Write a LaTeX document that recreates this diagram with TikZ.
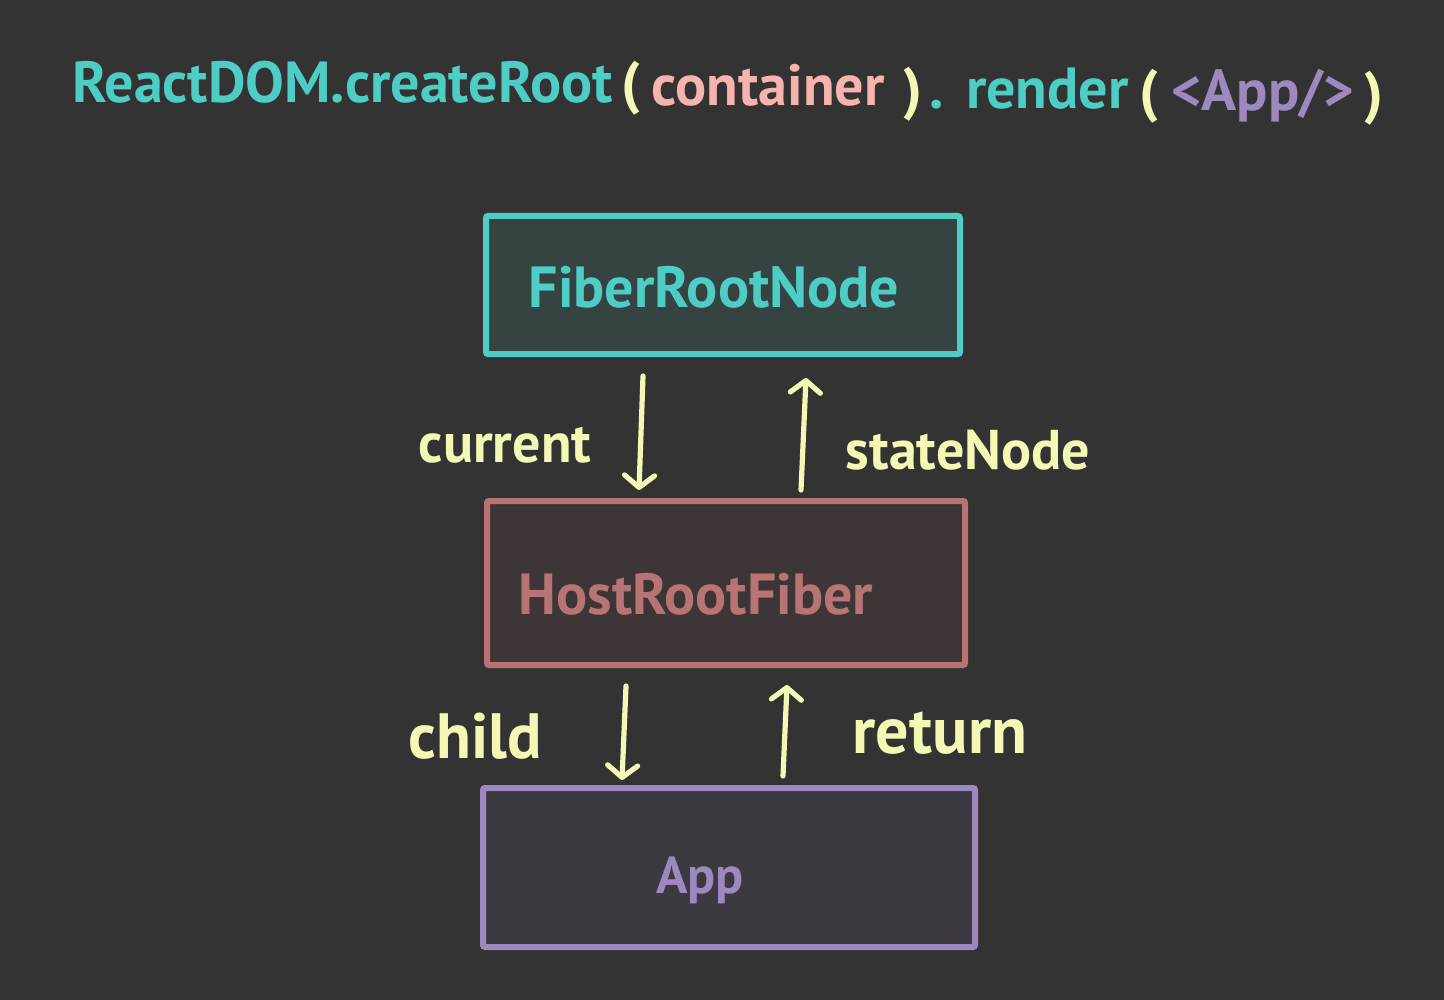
\documentclass[tikz,border=0pt]{standalone}
\usepackage{fontspec}
\setmainfont{PT Sans}
\usetikzlibrary{arrows.meta,calc}
\definecolor{bg}{HTML}{333333}
\definecolor{teal}{HTML}{4ECDC4}
\definecolor{tealfill}{HTML}{354343}
\definecolor{pinkt}{HTML}{F7B3AE}
\definecolor{yel}{HTML}{F3F9B4}
\definecolor{purp}{HTML}{9D88BF}
\definecolor{rose}{HTML}{B87375}
\definecolor{rosefill}{HTML}{3E3636}
\definecolor{appfill}{HTML}{3C3A40}
\tikzset{
  box/.style={draw, line width=3pt, rounded corners=1pt, inner sep=0pt},
  arr/.style={draw=yel, line width=2.6pt, line cap=round,
    -{Straight Barb[length=6pt,width=15pt,line width=2.6pt,round]}},
  lab/.style={text=yel, font=\bfseries\fontsize{28}{30}\selectfont, inner sep=0pt},
  ttl/.style={font=\bfseries\fontsize{29}{33}\selectfont, inner sep=0pt, anchor=base west},
}
\begin{document}
\begin{tikzpicture}[x=0.5pt,y=-0.5pt]
\fill[bg] (0,0) rectangle (1444,1000);
\useasboundingbox (0,0) rectangle (1444,1000);
% title
\node[ttl,text=teal] (t1) at (72,103) {ReactDOM.createRoot};
\node[ttl,text=yel] (t2) at ($(t1.base east)+(8,0)$) {(};
\node[ttl,text=pinkt] (t3) at ($(t2.base east)+(10,3)$) {container};
\node[ttl,text=yel] (t4) at ($(t3.base east)+(18,3)$) {)};
\node[ttl,text=teal] (t5) at ($(t4.base east)+(6,0)$) {.};
\node[ttl,text=teal] (t6) at ($(t5.base east)+(22,0)$) {render};
\node[ttl,text=yel] (t7) at ($(t6.base east)+(10,2)$) {(};
\node[ttl,text=purp] (t8) at ($(t7.base east)+(12,0)$) {<App/>};
\node[ttl,text=yel] (t9) at ($(t8.base east)+(10,2)$) {)};
% boxes
\node[box, draw=teal, fill=tealfill, minimum width=237pt, minimum height=69pt] (frn) at (723,285) {};
\node[box, draw=rose, fill=rosefill, minimum width=239pt, minimum height=82pt] (hrf) at (726,583) {};
\node[box, draw=purp, fill=appfill, minimum width=246pt, minimum height=79.5pt] (app) at (729,867.5) {};
\node[text=teal, font=\bfseries\fontsize{29}{33}\selectfont, inner sep=0pt] (frnt) at (714,287) {FiberRootNode};
\node[text=rose, font=\bfseries\fontsize{29}{33}\selectfont, inner sep=0pt] (hrft) at (696,594) {HostRootFiber};
\node[text=purp, font=\bfseries\fontsize{26}{30}\selectfont, inner sep=0pt] (appt) at (700,880) {App};
% arrows
\draw[arr] ($(frn.south west)+(160,19)$) -- ($(hrf.north west)+(155,-8)$);
\draw[arr] ($(hrf.north west)+(317,-8)$) -- ($(frn.south west)+(323,21)$);
\draw[arr] ($(hrf.south west)+(142,18)$) -- ($(app.north west)+(142,-5)$);
\draw[arr] ($(app.north west)+(303,-9)$) -- ($(hrf.south west)+(303,17)$);
% labels
\node[lab] (lcur) at (505,445) {current};
\node[lab] (lsn) at (968,450) {stateNode};
\node[lab, font=\bfseries\fontsize{32}{34}\selectfont] (lch) at (475,736) {child};
\node[lab, font=\bfseries\fontsize{33}{35}\selectfont] (lret) at (940,733) {return};
\end{tikzpicture}
\end{document}
